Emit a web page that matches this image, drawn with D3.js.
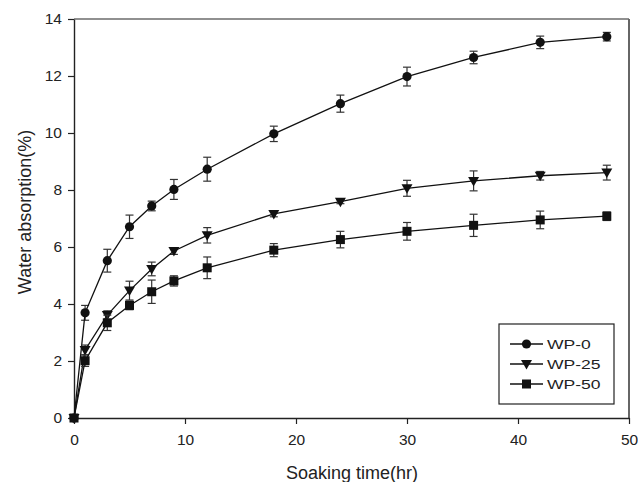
<!DOCTYPE html>
<html>
<head>
<meta charset="utf-8">
<script src="https://cdn.jsdelivr.net/npm/d3@7"></script>
<style>
  body { margin: 0; background: #fff; }
  svg text { font-family: "Liberation Sans", Arial, sans-serif; fill: #222; }
</style>
</head>
<body>
<div id="chart"></div>
<script>
const hours = [0, 1, 3, 5, 7, 9, 12, 18, 24, 30, 36, 42, 48];
const wp0 = [0, 3.69, 5.52, 6.71, 7.44, 8.02, 8.73, 9.97, 11.03, 11.98, 12.65, 13.18, 13.38];
const wp0Err = [0, 0.26, 0.4, 0.41, 0.17, 0.35, 0.42, 0.27, 0.3, 0.33, 0.22, 0.22, 0.15];
const wp25 = [0, 2.39, 3.61, 4.47, 5.23, 5.86, 6.41, 7.16, 7.59, 8.06, 8.32, 8.5, 8.61];
const wp25Err = [0, 0.17, 0.15, 0.33, 0.24, 0.12, 0.27, 0.1, 0.07, 0.28, 0.35, 0.15, 0.26];
const wp50 = [0, 2.01, 3.34, 3.95, 4.43, 4.81, 5.27, 5.89, 6.26, 6.55, 6.76, 6.95, 7.08];
const wp50Err = [0, 0.2, 0.27, 0.15, 0.41, 0.18, 0.38, 0.23, 0.29, 0.31, 0.39, 0.31, 0.15];
const seriesNames = ["WP-0", "WP-25", "WP-50"];
const xTicks = [0, 10, 20, 30, 40, 50];
const yTicks = [0, 2, 4, 6, 8, 10, 12, 14];

const W = 638, H = 482;
const margin = { top: 19, right: 9, bottom: 64, left: 74 };
const width = W - margin.left - margin.right;
const height = H - margin.top - margin.bottom;

const svg = d3.select("#chart").append("svg").attr("width", W).attr("height", H);
const g = svg.append("g").attr("transform", `translate(${margin.left},${margin.top})`);

const x = d3.scaleLinear().domain([0, 50]).range([0, width]);
const y = d3.scaleLinear().domain([0, 14]).range([height, 0]);

// frame
g.append("line").attr("x1", 0).attr("x2", width).attr("y1", 0).attr("y2", 0)
  .attr("stroke", "#222").attr("stroke-width", 1.2);
g.append("line").attr("x1", width).attr("x2", width).attr("y1", 0).attr("y2", height)
  .attr("stroke", "#666").attr("stroke-width", 2);

const xAxis = g.append("g").attr("transform", `translate(0,${height})`)
  .call(d3.axisBottom(x).tickValues(xTicks).tickSize(6).tickPadding(10).tickSizeOuter(0));
const yAxis = g.append("g")
  .call(d3.axisLeft(y).tickValues(yTicks).tickSize(6).tickPadding(6).tickSizeOuter(0));
[xAxis, yAxis].forEach(a => {
  a.select(".domain").attr("stroke", "#222").attr("stroke-width", 1.4);
  a.selectAll(".tick line").attr("stroke", "#222").attr("stroke-width", 1.2);
  a.selectAll(".tick text").attr("font-size", 15.5).attr("fill", "#222");
});

svg.append("text").attr("x", 352).attr("y", 479).attr("text-anchor", "middle")
  .attr("font-size", 18).text("Soaking time(hr)");
svg.append("text").attr("transform", "translate(31,212) rotate(-90)")
  .attr("text-anchor", "middle").attr("font-size", 18).text("Water absorption(%)");

const series = [
  { name: seriesNames[0], vals: wp0, err: wp0Err, shape: "circle" },
  { name: seriesNames[1], vals: wp25, err: wp25Err, shape: "tri" },
  { name: seriesNames[2], vals: wp50, err: wp50Err, shape: "square" }
];

function marker(sel, shape) {
  if (shape === "circle") {
    sel.append("circle").attr("r", 4.6).attr("fill", "#111");
  } else if (shape === "tri") {
    sel.append("path").attr("d", "M-5.5,-4 L5.5,-4 L0,5.5 Z").attr("fill", "#111");
  } else {
    sel.append("rect").attr("x", -4.5).attr("y", -4.5).attr("width", 9).attr("height", 9).attr("fill", "#111");
  }
}

const line = d3.line().x((d, i) => x(hours[i])).y(d => y(d));

series.forEach(s => {
  const sg = g.append("g");
  // error bars
  const eb = sg.selectAll(".eb").data(s.vals).join("g")
    .attr("transform", (d, i) => `translate(${x(hours[i])},0)`);
  eb.append("line").attr("y1", (d, i) => y(d + s.err[i])).attr("y2", (d, i) => y(d - s.err[i]))
    .attr("stroke", "#333").attr("stroke-width", 1.2);
  eb.append("line").attr("x1", -4).attr("x2", 4)
    .attr("y1", (d, i) => y(d + s.err[i])).attr("y2", (d, i) => y(d + s.err[i]))
    .attr("stroke", "#333").attr("stroke-width", 1.2);
  eb.append("line").attr("x1", -4).attr("x2", 4)
    .attr("y1", (d, i) => y(d - s.err[i])).attr("y2", (d, i) => y(d - s.err[i]))
    .attr("stroke", "#333").attr("stroke-width", 1.2);
  sg.append("path").datum(s.vals).attr("d", line).attr("fill", "none")
    .attr("stroke", "#111").attr("stroke-width", 1.3);
  sg.selectAll(".pt").data(s.vals).join("g")
    .attr("transform", (d, i) => `translate(${x(hours[i])},${y(d)})`)
    .each(function () { marker(d3.select(this), s.shape); });
});

// legend
const lg = svg.append("g").attr("transform", "translate(499,324)");
lg.append("rect").attr("width", 115).attr("height", 80).attr("fill", "#fff")
  .attr("stroke", "#222").attr("stroke-width", 1.2);
series.forEach((s, i) => {
  const row = lg.append("g").attr("transform", `translate(0,${20 + i * 20})`);
  row.append("line").attr("x1", 11).attr("x2", 44).attr("stroke", "#111").attr("stroke-width", 1.3);
  marker(row.append("g").attr("transform", "translate(27.5,0)"), s.shape);
  row.append("text").attr("transform", "translate(48,5) scale(1.3,1)")
    .attr("font-size", 13.5).text(s.name);
});
</script>
</body>
</html>
